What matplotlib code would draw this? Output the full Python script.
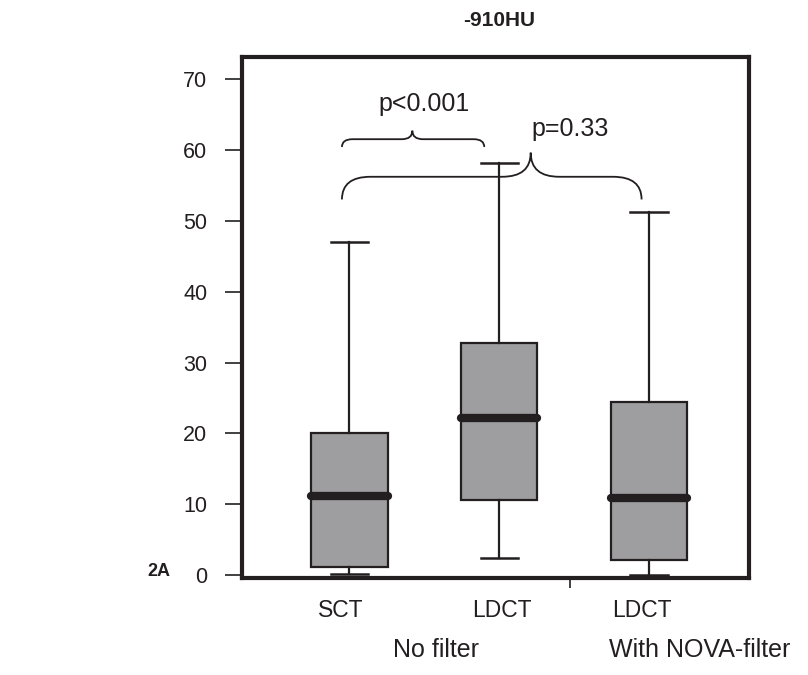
import numpy as np
import matplotlib
matplotlib.use("Agg")
import matplotlib.pyplot as plt
from matplotlib.path import Path
from matplotlib.patches import PathPatch
import matplotlib.transforms as mtransforms

plt.rcParams['font.family'] = ['Liberation Sans', 'DejaVu Sans']

# values
groups = ['SCT', 'LDCT', 'LDCT']
filters = ['No filter', 'With NOVA-filter']
whis_lo = [0.15, 2.4, 0.0]
q1 = [1.2, 10.6, 2.2]
median = [11.2, 22.2, 10.9]
q3 = [20.0, 32.7, 24.4]
whis_hi = [47.0, 58.1, 51.2]

# significance braces
p_labels = ['p<0.001', 'p=0.33']
brace_x0 = [0.95, 0.95]
brace_x1 = [1.90, 2.95]
brace_tip = [1.42, 2.21]
brace_end = [60.4, 53.0]
brace_flat = [61.5, 56.2]
brace_peak = [62.7, 59.6]
brace_r = [0.07, 0.19]
p_x = [1.50, 2.47]
p_y = [66.4, 63.0]

ink = '#231f20'
fig = plt.figure(figsize=(8.08, 6.75), dpi=100)
ax = fig.add_axes([0.2995, 0.1437, 0.6275, 0.7719])

stats = []
for i in range(len(groups)):
    stats.append(dict(whislo=whis_lo[i], q1=q1[i], med=median[i],
                      q3=q3[i], whishi=whis_hi[i], fliers=[]))

ax.bxp(stats, positions=[1, 2, 3], widths=0.51, capwidths=0.25,
       patch_artist=True, showfliers=False,
       boxprops=dict(facecolor='#9e9ea0', edgecolor=ink, linewidth=1.6),
       whiskerprops=dict(color=ink, linewidth=1.6),
       capprops=dict(color=ink, linewidth=1.8),
       medianprops=dict(color=ink, linewidth=6, solid_capstyle='round'))


def brace(x0, x1, xm, ye, yf, yp, r):
    verts = [(x0, ye), (x0, yf), (x0 + r, yf),
             (xm - r, yf), (xm, yf), (xm, yp),
             (xm, yf), (xm + r, yf),
             (x1 - r, yf), (x1, yf), (x1, ye)]
    codes = [Path.MOVETO, Path.CURVE3, Path.CURVE3,
             Path.LINETO, Path.CURVE3, Path.CURVE3,
             Path.CURVE3, Path.CURVE3,
             Path.LINETO, Path.CURVE3, Path.CURVE3]
    ax.add_patch(PathPatch(Path(verts, codes), facecolor='none',
                           edgecolor=ink, linewidth=1.3))


for i in range(len(p_labels)):
    brace(brace_x0[i], brace_x1[i], brace_tip[i], brace_end[i],
          brace_flat[i], brace_peak[i], brace_r[i])
    ax.text(p_x[i], p_y[i], p_labels[i], ha='center', va='center',
            fontsize=18, color=ink)

ax.set_xlim(0.283, 3.667)
ax.set_ylim(-0.4, 73.1)
ax.set_yticks(np.arange(0, 71, 10))
ax.tick_params(axis='y', length=12, width=1.2, pad=13, labelsize=15.5,
               colors=ink)
ax.set_xticks([2.47])
ax.set_xticklabels([''])
ax.tick_params(axis='x', length=7, width=1.2, colors=ink)
for s in ax.spines.values():
    s.set_linewidth(3)
    s.set_color(ink)

trans = mtransforms.blended_transform_factory(ax.transData, ax.transAxes)
label_x = [0.943, 2.02, 2.95]
for x, g in zip(label_x, groups):
    ax.text(x, -0.063, g, transform=trans, ha='center', va='center',
            fontsize=16.5, color=ink)
for x, f in zip([1.58, 3.34], filters):
    ax.text(x, -0.138, f, transform=trans, ha='center', va='center',
            fontsize=18, color=ink, clip_on=False)

fig.text(0.6176, 0.970, '-910HU', ha='center', va='center',
         fontsize=15, fontweight='bold', color=ink,
         family=['Liberation Sans Narrow', 'Liberation Sans'])
fig.text(0.197, 0.154, '2A', ha='center', va='center', fontsize=13,
         fontweight='bold', color=ink)

fig.savefig('out.png', dpi=100)
